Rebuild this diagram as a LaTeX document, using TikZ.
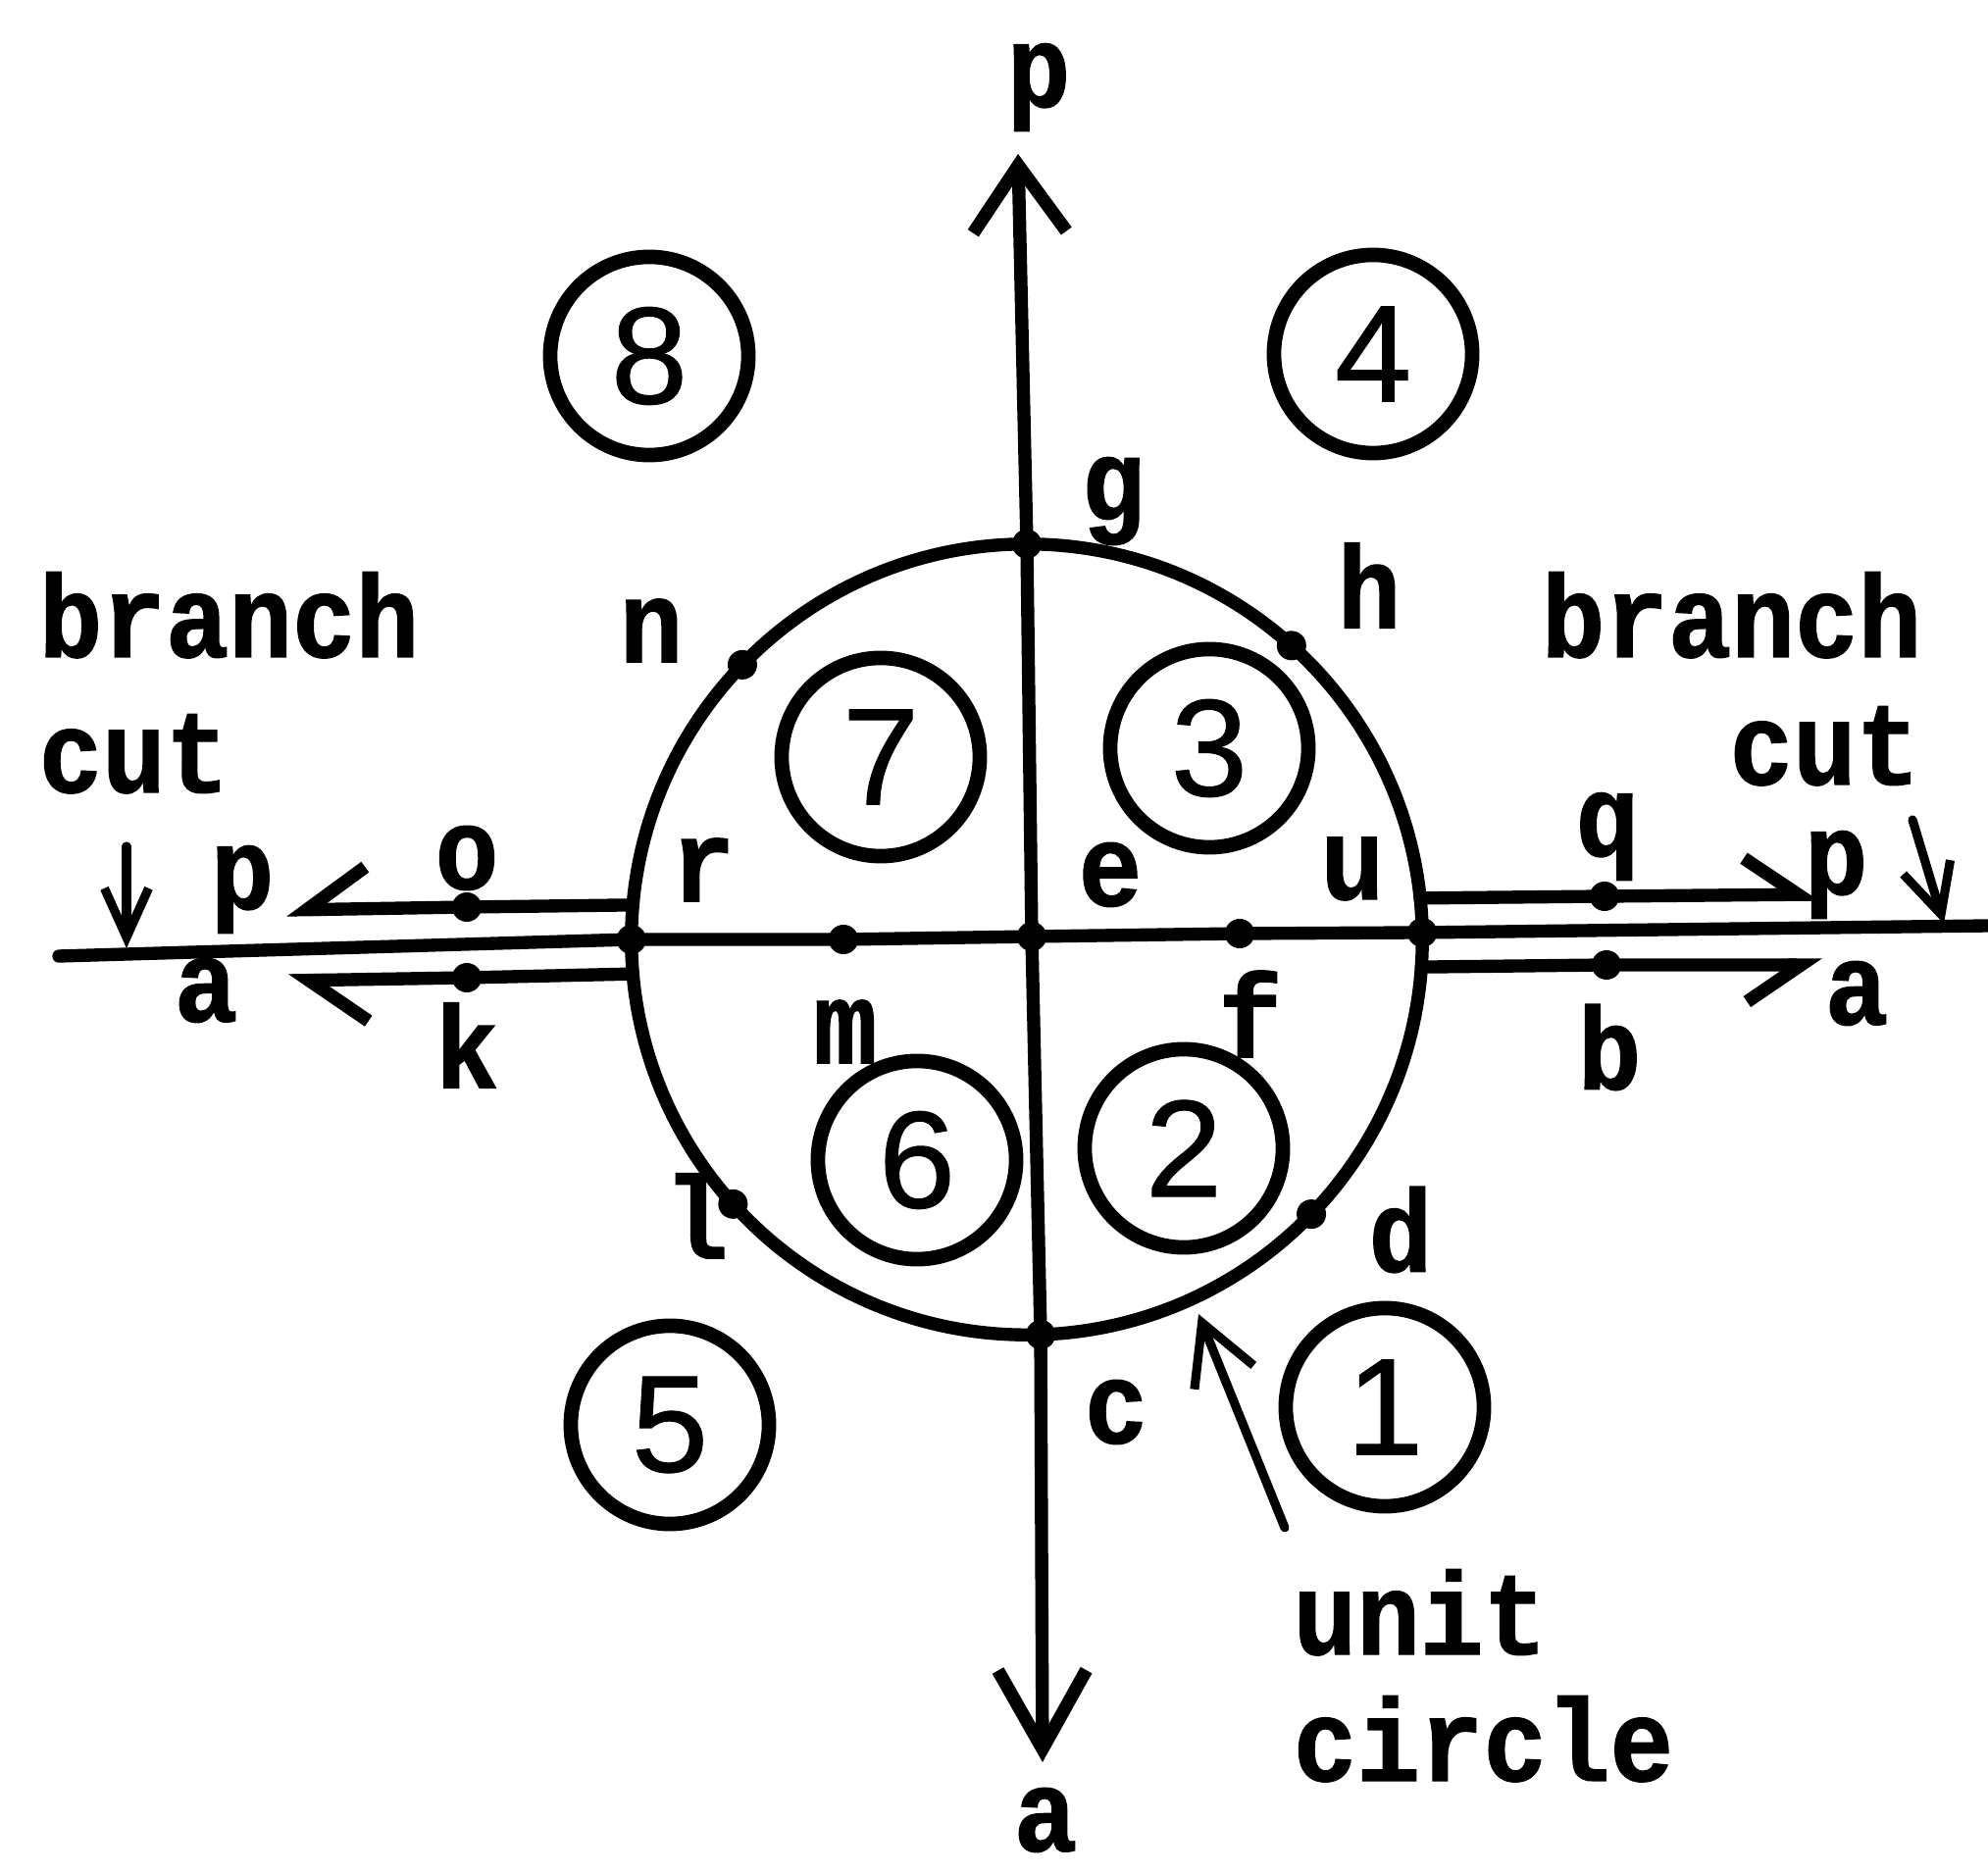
\documentclass[tikz,border=0pt]{standalone}
\usepackage{fontspec}
\newfontfamily\twfont[FakeStretch=0.9, BoldFeatures={FakeBold=1.2}]{Liberation Mono}
\newfontfamily\digfont[FakeBold=0.8]{Liberation Sans}
\usetikzlibrary{arrows.meta}
\begin{document}
\begin{tikzpicture}[x=0.01cm,y=-0.01cm,
  ax/.style={line width=3.8pt, line cap=round, line join=round},
  thinax/.style={line width=2.6pt, line cap=round, line join=round},
  pt/.style={circle, fill, inner sep=0pt, outer sep=0pt, minimum size=0.3cm},
  lbl/.style={inner sep=0pt, font={\twfont\bfseries\fontsize{34}{40}\selectfont}},
  num/.style={circle, draw, line width=4.2pt, inner sep=0pt, outer sep=0pt, minimum size=2.02cm, font={\digfont\fontsize{40}{46}\selectfont}}]
\useasboundingbox (0,0) rectangle (2027,1910);
% unit circle
\node[draw, circle, ax, inner sep=0pt, outer sep=0pt, minimum size=8.06cm] (U) at (1047,958) {};
% points on circle
\node[pt] (g) at (U.90.3) {};
\node[pt] (h) at (U.48.5) {};
\node[pt] (n) at (U.136.7) {};
\node[pt] (l) at (U.222.2) {};
\node[pt] (d) at (U.316.7) {};
\node[pt] (c) at (U.272.3) {};
\node[pt] (L) at (U.180.6) {};
\node[pt] (R) at (U.1.1) {};
% points on axis
\node[pt] (O) at (1052,955) {};
\node[pt] (m) at (860,958) {};
\node[pt] (f) at (1264,952) {};
% points on branch lines
\node[pt] (o) at (476,925) {};
\node[pt] (k) at (476,997) {};
\node[pt] (q) at (1636,914) {};
\node[pt] (b) at (1638,984) {};
% axis ends
\coordinate (Lend) at (60,975);
\coordinate (Rend) at (2027,944);
\coordinate (Ptop) at (1038,157);
\coordinate (Abot) at (1063,1797);
\draw[ax] (Lend) -- (L.center) -- (m.center) -- (O.center) -- (f.center) -- (R.center) -- (Rend);
\draw[ax, {Straight Barb[length=6.8mm,width=9.5mm]}-{Straight Barb[length=8mm,width=9mm]}]
  (Ptop) -- (g.center) -- (O.center) -- (c.center) -- (Abot);
% branch lines
\coordinate (tLU) at (292,928);
\coordinate (tLD) at (294,1000);
\coordinate (tRU) at (1855,912);
\coordinate (tRD) at (1858,984);
\draw[ax, -{Straight Barb[right,length=6mm,width=8.5mm]}] (U.175.3) -- (o.center) -- (tLU);
\draw[ax, -{Straight Barb[left,length=6mm,width=8.5mm]}] (U.185.6) -- (k.center) -- (tLD);
\draw[ax, -{Straight Barb[left,length=5.5mm,width=7.5mm]}] (U.6.3) -- (q.center) -- (tRU);
\draw[ax, -{Straight Barb[right,length=5.5mm,width=7.5mm]}] (U.356.3) -- (b.center) -- (tRD);
% branch cut pointers
\coordinate (bcLs) at (129,863);
\coordinate (bcLe) at (129,967);
\coordinate (bcRs) at (1950,836);
\coordinate (bcRe) at (1982,942);
\draw[thinax, -{Straight Barb[length=5mm,width=4.5mm]}] (bcLs) -- (bcLe);
\draw[thinax, -{Straight Barb[length=5mm,width=5mm]}] (bcRs) -- (bcRe);
% unit circle pointer
\coordinate (ucs) at (1310,1558);
\coordinate (uce) at (1222,1340);
\draw[thinax, -{Straight Barb[length=6mm,width=6.5mm]}] (ucs) -- (uce);
% circled numbers
\node[num] (r8) at (662,363) {8};
\node[num] (r4) at (1400,361) {4};
\node[num] (r7) at (898,772) {7};
\node[num] (r3) at (1233,763) {3};
\node[num] (r6) at (935,1183) {6};
\node[num] (r2) at (1207,1171) {2};
\node[num] (r5) at (683,1453) {5};
\node[num] (r1) at (1412,1435) {1};
% letter labels
\node[lbl] (lp1) at (1059,89) {p};
\node[lbl] (la1) at (1066,1856) {a};
\node[lbl] (lg) at (1135,511) {g};
\node[lbl] (lh) at (1396,597) {h};
\node[lbl] (ln) at (664,643) {n};
\node[lbl] (ld) at (1428,1254) {d};
\node[lbl] (ll) at (710,1240) {l};
\node[lbl] (lc) at (1138,1440) {c};
\node[lbl] (le) at (1132,892) {e};
\node[lbl] (lr) at (717,887) {r};
\node[lbl] (lu) at (1379,886) {u};
\node[lbl] (lm) at (862,1052) {m};
\node[lbl] (lf) at (1275,1034) {f};
\node[lbl] (lo) at (476,875) {o};
\node[lbl] (lk) at (476,1066) {k};
\node[lbl] (lq) at (1639,853) {q};
\node[lbl] (lb) at (1641,1068) {b};
\node[lbl] (lp2) at (1872,892) {p};
\node[lbl] (la2) at (1893,1013) {a};
\node[lbl] (lp3) at (247,907) {p};
\node[lbl] (la3) at (210,1010) {a};
% text
\node[lbl, anchor=base west] (bl1) at (39,670) {branch};
\node[lbl, anchor=base west] (bl2) at (39,808) {cut};
\node[lbl, anchor=base west] (br1) at (1571,670) {branch};
\node[lbl, anchor=base east] (br2) at (1958,800) {cut};
\node[lbl, anchor=base west] (uc1) at (1318,1687) {unit};
\node[lbl, anchor=base west] (uc2) at (1318,1816) {circle};
\end{tikzpicture}
\end{document}
